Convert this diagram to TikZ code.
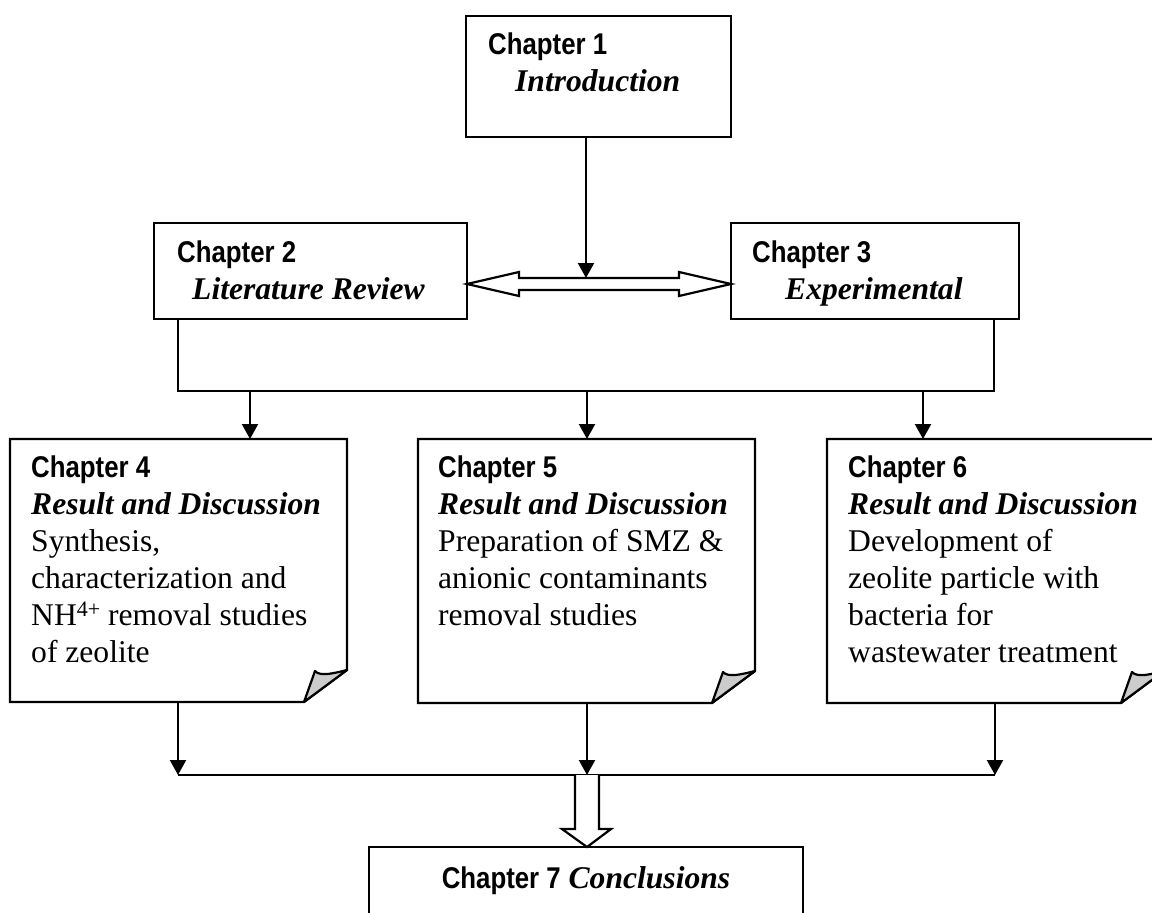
\documentclass[tikz,border=0pt]{standalone}
\usepackage{fontspec}
\setmainfont{Liberation Serif}
\newfontfamily\arialfont[FakeStretch=0.86]{Liberation Sans}
\usetikzlibrary{calc}
\usetikzlibrary{positioning}
\usetikzlibrary{arrows.meta}

\newcommand{\chaphead}[1]{{\arialfont\bfseries\fontsize{30}{37}\selectfont #1}}
\newcommand{\chaptitle}[1]{\textbf{\textit{#1}}}

\tikzset{
  chapbox/.style={draw, line width=2pt, inner sep=0pt, outer sep=0pt, anchor=north west},
  foldbox/.style={chapbox, draw=none},
  chaptext/.style={inner sep=0pt, align=left, font=\fontsize{31.6}{37}\selectfont},
  wire/.style={line width=2.2pt},
  link/.style={wire, -{Triangle[width=16pt,length=15pt]}},
}

\begin{document}
\begin{tikzpicture}[x=1pt, y=-1pt]
  \clip (0,0) rectangle (1152,913);

  \node [chapbox, minimum width=265pt, minimum height=121pt] (c1) at (466,16) {};
  \node [chapbox, minimum width=313pt, minimum height=96pt] (c2) at (154,223) {};
  \node [chapbox, minimum width=288pt, minimum height=96pt] (c3) at (731,223) {};
  \node [foldbox, minimum width=337pt, minimum height=263pt] (c4) at (10,439) {};
  \node [foldbox, minimum width=337pt, minimum height=264pt] (c5) at (418,439) {};
  \node [foldbox, minimum width=337pt, minimum height=264pt] (c6) at (827,439) {};
  \node [chapbox, minimum width=434pt, minimum height=120pt] (c7) at (369,847) {};

  % folded corners
  \foreach \n in {c4,c5,c6} {
    \draw [wire] (\n.north west) -- (\n.north east) -- ($(\n.south east)+(0,-32)$)
      -- ($(\n.south east)+(-43,0)$) -- (\n.south west) -- cycle;
    \draw [wire, fill=gray!40, line join=round] ($(\n.south east)+(-43,0)$) -- ($(\n.south east)+(-32,-31)$)
      .. controls ($(\n.south east)+(-27,-25)$) and ($(\n.south east)+(-12,-29)$) .. ($(\n.south east)+(0,-32)$) -- cycle;
  }

  \node [chaptext, below right=17pt and 22pt of c1.north west] (t1)
    {\chaphead{Chapter 1}\\\hspace*{27pt}\chaptitle{Introduction}};
  \node [chaptext, below right=18pt and 23pt of c2.north west] (t2)
    {\chaphead{Chapter 2}\\\hspace*{15pt}\chaptitle{Literature Review}};
  \node [chaptext, below right=18pt and 21pt of c3.north west] (t3)
    {\chaphead{Chapter 3}\\\hspace*{33pt}\chaptitle{Experimental}};
  \node [chaptext, below right=17pt and 21pt of c4.north west] (t4)
    {\chaphead{Chapter 4}\\\chaptitle{Result and Discussion}\\Synthesis,\\characterization and\\
     NH\raisebox{9pt}{\fontsize{22}{22}\selectfont 4+} removal studies\\of zeolite};
  \node [chaptext, below right=17pt and 20pt of c5.north west] (t5)
    {\chaphead{Chapter 5}\\\chaptitle{Result and Discussion}\\Preparation of SMZ \&\\anionic contaminants\\removal studies};
  \node [chaptext, below right=17pt and 21pt of c6.north west] (t6)
    {\chaphead{Chapter 6}\\\chaptitle{Result and Discussion}\\Development of\\zeolite particle with\\bacteria for\\wastewater treatment};
  \node [chaptext, below=19pt of c7.north] (t7)
    {\chaphead{Chapter 7} \chaptitle{Conclusions}};

  % 1 to 2 and 3:
  \coordinate (hub) at (586,278);
  \coordinate (mid) at (600,284);
  \draw [link] (c1.south -| hub) -- (hub);
  \draw [wire, fill=white] (c2.east |- mid) -- ++(52,-12) -- ++(0,6) -- ($(c3.west |- mid)+(-52,-6)$)
    -- ++(0,-6) -- (c3.west |- mid) -- ++(-52,12) -- ++(0,-6) -- ($(c2.east |- mid)+(52,6)$) -- ++(0,6) -- cycle;

  % 2 and 3 to 4, 5, 6:
  \coordinate (sl) at (178,391);
  \coordinate (sr) at (994,391);
  \coordinate (j4) at (250,391);
  \coordinate (j5) at (587,391);
  \coordinate (j6) at (923,391);
  \draw [wire] (c2.south -| sl) -- (sl) -- (sr) -- (c3.south -| sr);
  \draw [link] (j4) -- (j4 |- c4.north);
  \draw [link] (j5) -- (j5 |- c5.north);
  \draw [link] (j6) -- (j6 |- c6.north);

  % 4, 5, 6 to 7:
  \coordinate (k4) at (178,775);
  \coordinate (k5) at (587,775);
  \coordinate (k6) at (995,775);
  \draw [link] (k4 |- c4.south) -- (k4);
  \draw [link] (k5 |- c5.south) -- (k5);
  \draw [link] (k6 |- c6.south) -- (k6);
  \draw [wire] (k4) -- (k6);
  \draw [wire, fill=white] ($(k5)+(-12,0)$) -- ++(0,54) -- ++(-13,0) -- (c7.north -| k5)
    -- ($(k5)+(24,54)$) -- ++(-12,0) -- ($(k5)+(12,0)$);

\end{tikzpicture}
\end{document}
